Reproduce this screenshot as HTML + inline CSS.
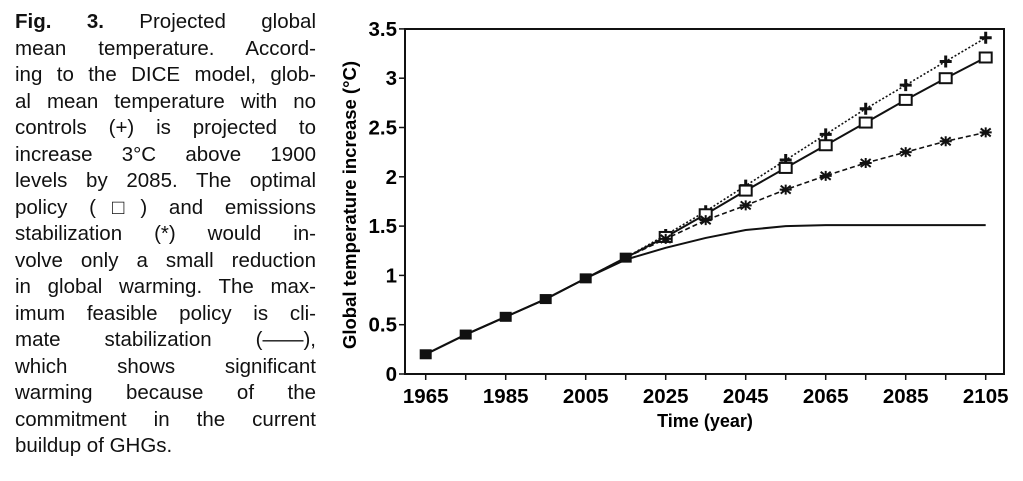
<!DOCTYPE html>
<html><head><meta charset="utf-8"><style>
body{margin:0;width:1023px;height:481px;background:#fff;overflow:hidden;font-family:"Liberation Sans",sans-serif;color:#111}
#cap{position:absolute;left:15px;top:9px;width:301px;font-size:20.5px;line-height:26.5px;letter-spacing:0}
#cap div{text-align:justify;text-align-last:justify;white-space:nowrap;height:26.5px}
#cap div.l{text-align-last:left}
svg{position:absolute;left:0;top:0}
</style></head><body>
<div id="cap">
<div><b>Fig. 3.</b> Projected global</div>
<div>mean temperature. Accord-</div>
<div>ing to the DICE model, glob-</div>
<div>al mean temperature with no</div>
<div>controls (+) is projected to</div>
<div>increase 3°C above 1900</div>
<div>levels by 2085. The optimal</div>
<div>policy (□) and emissions</div>
<div>stabilization (*) would in-</div>
<div>volve only a small reduction</div>
<div>in global warming. The max-</div>
<div>imum feasible policy is cli-</div>
<div>mate stabilization (——),</div>
<div>which shows significant</div>
<div>warming because of the</div>
<div>commitment in the current</div>
<div class="l">buildup of GHGs.</div>
</div>
<svg id="chart" width="1023" height="481"></svg>
<script>
const years=[1965,1975,1985,1995,2005,2015,2025,2035,2045,2055,2065,2075,2085,2095,2105];
const noControls=[0.2,0.4,0.58,0.76,0.97,1.18,1.41,1.65,1.91,2.17,2.43,2.69,2.93,3.17,3.41];
const optimal=[0.2,0.4,0.58,0.76,0.97,1.18,1.39,1.62,1.86,2.09,2.32,2.55,2.78,3.0,3.21];
const emissionsStab=[0.2,0.4,0.58,0.76,0.97,1.18,1.37,1.56,1.71,1.87,2.01,2.14,2.25,2.36,2.45];
const climateStab=[0.2,0.4,0.58,0.76,0.97,1.16,1.28,1.38,1.46,1.50,1.51,1.51,1.51,1.51,1.51];
const yTicks=[0,0.5,1,1.5,2,2.5,3,3.5];
const yTickLabels=["0","0.5","1","1.5","2","2.5","3","3.5"];
const xLabelYears=[1965,1985,2005,2025,2045,2065,2085,2105];

const NS="http://www.w3.org/2000/svg";
const svg=document.getElementById('chart');
const X=y=>425.7+(y-1965)*4;
const Y=v=>374-v*98.6;
function mk(t,a,p){const e=document.createElementNS(NS,t);for(const k in a)e.setAttribute(k,a[k]);(p||svg).appendChild(e);return e;}

const frame=mk('rect',{x:405,y:29,width:599,height:345,fill:'none',stroke:'#111','stroke-width':2});



yTicks.forEach((v,i)=>{
  mk('line',{x1:399,x2:405,y1:Y(v),y2:Y(v),stroke:'#111','stroke-width':1.5});
  const t=mk('text',{x:397,y:Y(v)+7,'text-anchor':'end','font-size':20.5,'font-weight':'bold'});
  t.textContent=yTickLabels[i];
  
  
});
years.forEach(y=>{mk('line',{x1:X(y),x2:X(y),y1:374,y2:380,stroke:'#111','stroke-width':1.5});});
xLabelYears.forEach(y=>{
  const t=mk('text',{x:X(y),y:403,'text-anchor':'middle','font-size':20.5,'font-weight':'bold'});
  t.textContent=y;
  
  
});
const xt=mk('text',{x:705,y:427,'text-anchor':'middle','font-size':18,'font-weight':'bold'});
xt.textContent='Time (year)';


const yt=mk('text',{x:0,y:0,'text-anchor':'middle','font-size':18.5,'font-weight':'bold',transform:'translate(356,205) rotate(-90)'});
yt.textContent='Global temperature increase (°C)';



function pts(arr){return arr.map((v,i)=>X(years[i])+','+Y(v)).join(' ');}
function series(arr,dash,name){
  const l=mk('polyline',{points:pts(arr),fill:'none',stroke:'#111','stroke-width':dash?1.6:2,'stroke-dasharray':dash||'none'});
  
  
}
series(climateStab,null,'climate-stabilization-line');
series(emissionsStab,'5,3','emissions-stabilization-line');
series(optimal,null,'optimal-policy-line');
series(noControls,'2,2','no-controls-line');

years.forEach((y,i)=>{
  const x=X(y);
  if(i<6){
    const r=mk('rect',{x:x-6,y:Y(noControls[i])-5,width:12,height:10,fill:'#111'});
    
    
    return;
  }
  let yy=Y(noControls[i]);
  const p=mk('path',{d:`M${x-6},${yy}H${x+6}M${x},${yy-6}V${yy+6}`,stroke:'#111','stroke-width':3});
  
  
  yy=Y(optimal[i]);
  const s=mk('rect',{x:x-6,y:yy-5,width:12,height:10,fill:'#fff',stroke:'#111','stroke-width':2});
  
  
  yy=Y(emissionsStab[i]);
  const a=mk('path',{d:`M${x-6},${yy}H${x+6}M${x-5},${yy-4}L${x+5},${yy+4}M${x-5},${yy+4}L${x+5},${yy-4}M${x},${yy-5}V${yy+5}`,stroke:'#111','stroke-width':2});
  
  
});
</script>
</body></html>
